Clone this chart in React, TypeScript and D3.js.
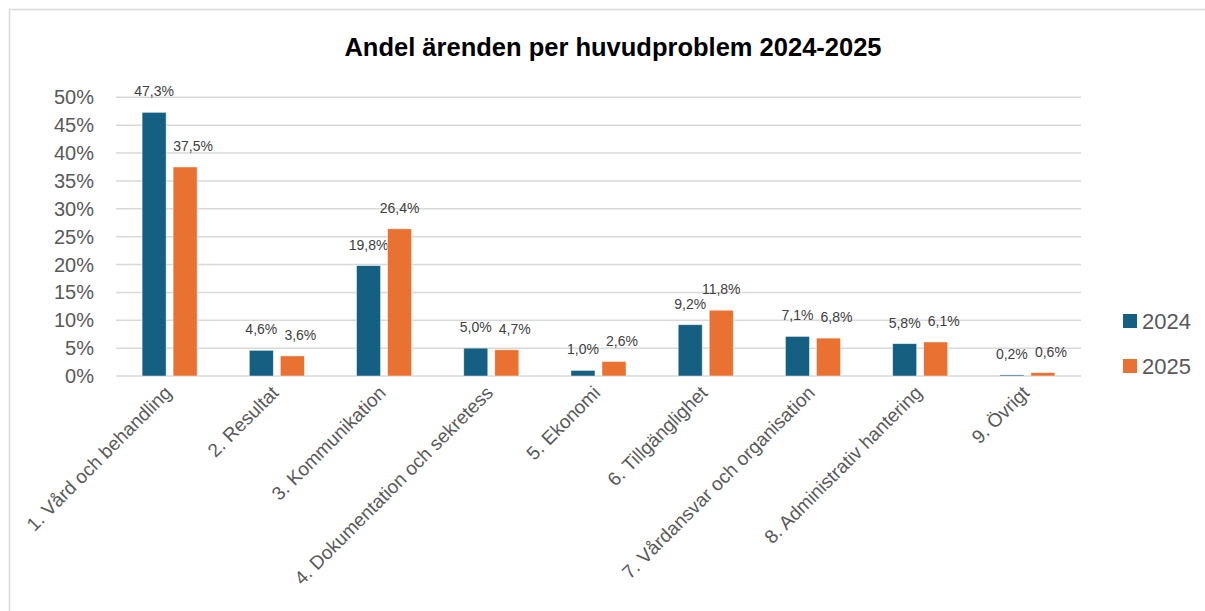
import React from "react";
import * as d3 from "d3";

const categories = [
  "1. Vård och behandling",
  "2. Resultat",
  "3. Kommunikation",
  "4. Dokumentation och sekretess",
  "5. Ekonomi",
  "6. Tillgänglighet",
  "7. Vårdansvar och organisation",
  "8. Administrativ hantering",
  "9. Övrigt",
];
const values2024 = [47.3, 4.6, 19.8, 5.0, 1.0, 9.2, 7.1, 5.8, 0.2];
const values2025 = [37.5, 3.6, 26.4, 4.7, 2.6, 11.8, 6.8, 6.1, 0.6];
const seriesNames = ["2024", "2025"];
const seriesColors = ["#156082", "#E97132"];
const yTicks = [0, 5, 10, 15, 20, 25, 30, 35, 40, 45, 50];

const W = 1205;
const H = 611;
const FONT = "'Liberation Sans', Arial, sans-serif";

export default function App() {
  const x0 = d3.scaleBand<string>().domain(categories).range([116, 1081]).padding(0);
  const y = d3.scaleLinear().domain([0, 50]).range([376, 97.3]);
  const barW = x0.bandwidth() * 0.224;
  const gap = 7;
  const fmt = (v: number) => v.toFixed(1).replace(".", ",") + "%";
  const series = [values2024, values2025];
  const labelOffset = 16;
  const labelHalfW = 20;

  return (
    <svg
      width={W}
      height={H}
      style={{ position: "absolute", left: 0, top: 0, background: "#fff" }}
      fontFamily={FONT}
    >
      <rect x={9.5} y={9.5} width={1220} height={640} fill="#fff" stroke="#D9D9D9" strokeWidth={1.5} />
      <text x={613} y={56} textAnchor="middle" fontSize={25.5} fontWeight="bold" fill="#000">
        Andel ärenden per huvudproblem 2024-2025
      </text>
      {yTicks.map((t) => (
        <g key={t}>
          <line x1={116} x2={1081} y1={y(t)} y2={y(t)} stroke="#D9D9D9" strokeWidth={1.5} />
          <text x={94} y={y(t)} dy="0.35em" textAnchor="end" fontSize={20} fill="#595959">
            {t}%
          </text>
        </g>
      ))}
      {categories.map((c, i) => {
        const cx = (x0(c) as number) + x0.bandwidth() / 2;
        const b0Right = cx - gap / 2;
        const b1Center = cx + gap / 2 + barW / 2;
        const lab0Base = y(values2024[i]) - labelOffset;
        const lab1Base = y(values2025[i]) - labelOffset;
        const overlapsBar = b1Center - labelHalfW < b0Right && y(values2024[i]) < lab1Base;
        const overlapsLabel = Math.abs(lab0Base - lab1Base) < 13;
        const shift1 = overlapsBar || overlapsLabel ? 8 : 0;
        return (
          <g key={c}>
            {series.map((vals, s) => {
              const bx = s === 0 ? cx - gap / 2 - barW : cx + gap / 2;
              const v = vals[i];
              return (
                <g key={s}>
                  <rect
                    x={bx}
                    y={y(v)}
                    width={barW}
                    height={y(0) - y(v)}
                    fill={seriesColors[s]}
                    stroke="#fff"
                    strokeOpacity={0.6}
                    strokeWidth={0.75}
                  />
                  <text
                    x={bx + barW / 2 + (s === 1 ? shift1 : 0)}
                    y={y(v) - labelOffset}
                    textAnchor="middle"
                    fontSize={14}
                    fill="#404040"
                  >
                    {fmt(v)}
                  </text>
                </g>
              );
            })}
            <text
              transform={`translate(${cx + 3},${394}) rotate(-45)`}
              textAnchor="end"
              fontSize={19}
              fill="#595959"
            >
              {c}
            </text>
          </g>
        );
      })}
      {seriesNames.map((n, s) => (
        <g key={n} transform={`translate(1123,${321 + s * 45})`}>
          <rect x={0} y={-7} width={14} height={14} fill={seriesColors[s]} />
          <text x={19} y={0} dy="0.36em" fontSize={22} fill="#595959">
            {n}
          </text>
        </g>
      ))}
    </svg>
  );
}
